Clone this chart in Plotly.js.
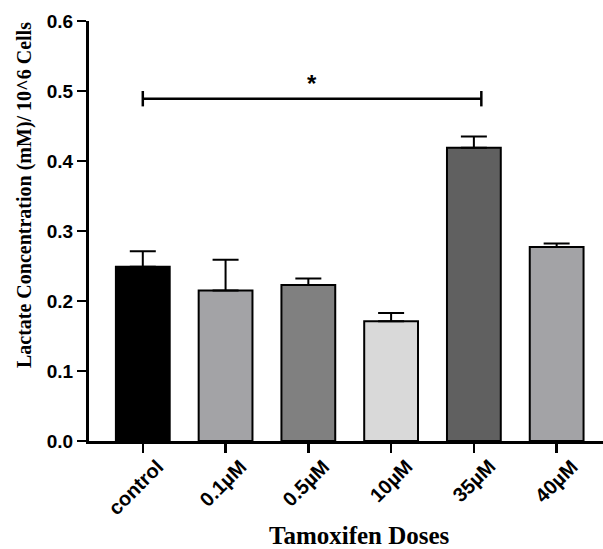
<!DOCTYPE html>
<html>
<head>
<meta charset="utf-8">
<script src="https://cdn.plot.ly/plotly-3.0.1.min.js"></script>
<style>html,body{margin:0;padding:0;background:#fff;}#chart{width:603px;height:549px;}</style>
</head>
<body>
<div id="chart"></div>
<script>
const categories = ["control", "0.1µM", "0.5µM", "10µM", "35µM", "40µM"];
const means = [0.249, 0.215, 0.223, 0.171, 0.419, 0.277];
const sem = [0.022, 0.044, 0.009, 0.012, 0.016, 0.005];
const barColors = ["#000000", "#a3a3a6", "#808080", "#d9d9d9", "#606060", "#a3a3a6"];
const yTicks = [0.0, 0.1, 0.2, 0.3, 0.4, 0.5, 0.6];
const yTickText = ["0.0", "0.1", "0.2", "0.3", "0.4", "0.5", "0.6"];
const sigFrom = 0, sigTo = 4.09, sigLevel = 0.489, sigLabel = "*";

const positions = categories.map((c, i) => i);

const trace = {
  type: "bar",
  x: positions,
  y: means,
  width: 0.65,
  marker: {color: barColors, line: {color: "#000", width: 2}},
  error_y: {type: "data", symmetric: false, array: sem, arrayminus: sem.map(() => 0),
            color: "#000", thickness: 2, width: 13},
  hoverinfo: "none"
};

const tickLabelAnns = categories.map((c, i) => ({
  xref: "x", yref: "paper", x: positions[i], y: -0.028, xanchor: "right", yanchor: "top",
  xshift: 28, textangle: -45, text: c, showarrow: false,
  font: {family: "Liberation Sans, Arial, sans-serif", size: 20, color: "#000", weight: "bold"}
}));

const layout = {
  width: 603, height: 549,
  margin: {l: 89, r: 0, t: 21, b: 108},
  paper_bgcolor: "#fff", plot_bgcolor: "#fff",
  showlegend: false,
  xaxis: {
    range: [-0.65, 5.56], tickvals: positions, showticklabels: false,
    ticks: "outside", ticklen: 9, tickwidth: 2.5, tickcolor: "#000",
    showline: true, linecolor: "#000", linewidth: 3, showgrid: false, zeroline: false
  },
  yaxis: {
    range: [0, 0.6], tickvals: yTicks, ticktext: yTickText,
    ticks: "outside", ticklen: 9, tickwidth: 2.5, tickcolor: "#000",
    showline: true, linecolor: "#000", linewidth: 3, showgrid: false, zeroline: false,
    tickfont: {family: "Liberation Sans, Arial, sans-serif", size: 19, color: "#000", weight: "bold"}
  },
  shapes: [
    {type: "line", xref: "x", yref: "y", x0: sigFrom, x1: sigTo, y0: sigLevel, y1: sigLevel, line: {color: "#000", width: 2.5}},
    {type: "line", xref: "x", yref: "y", x0: sigFrom, x1: sigFrom, y0: sigLevel - 0.011, y1: sigLevel + 0.011, line: {color: "#000", width: 2.5}},
    {type: "line", xref: "x", yref: "y", x0: sigTo, x1: sigTo, y0: sigLevel - 0.011, y1: sigLevel + 0.011, line: {color: "#000", width: 2.5}}
  ],
  annotations: tickLabelAnns.concat([
    {xref: "x", yref: "y", x: (sigFrom + sigTo) / 2, y: sigLevel, yanchor: "bottom", yshift: 0,
     text: sigLabel, showarrow: false, font: {family: "Liberation Sans, Arial, sans-serif", size: 24, color: "#000", weight: "bold"}},
    {xref: "paper", yref: "paper", x: -0.125, y: 0.585, textangle: -90, xanchor: "center", yanchor: "middle",
     text: "Lactate Concentration (mM)/ 10^6 Cells", showarrow: false,
     font: {family: "Liberation Serif, Times New Roman, serif", size: 20, color: "#000", weight: "bold"}},
    {xref: "paper", yref: "paper", x: 0.527, y: -0.225, xanchor: "center", yanchor: "middle",
     text: "Tamoxifen Doses", showarrow: false,
     font: {family: "Liberation Serif, Times New Roman, serif", size: 25, color: "#000", weight: "bold"}}
  ])
};

Plotly.newPlot("chart", [trace], layout, {displayModeBar: false, staticPlot: true});
</script>
</body>
</html>
